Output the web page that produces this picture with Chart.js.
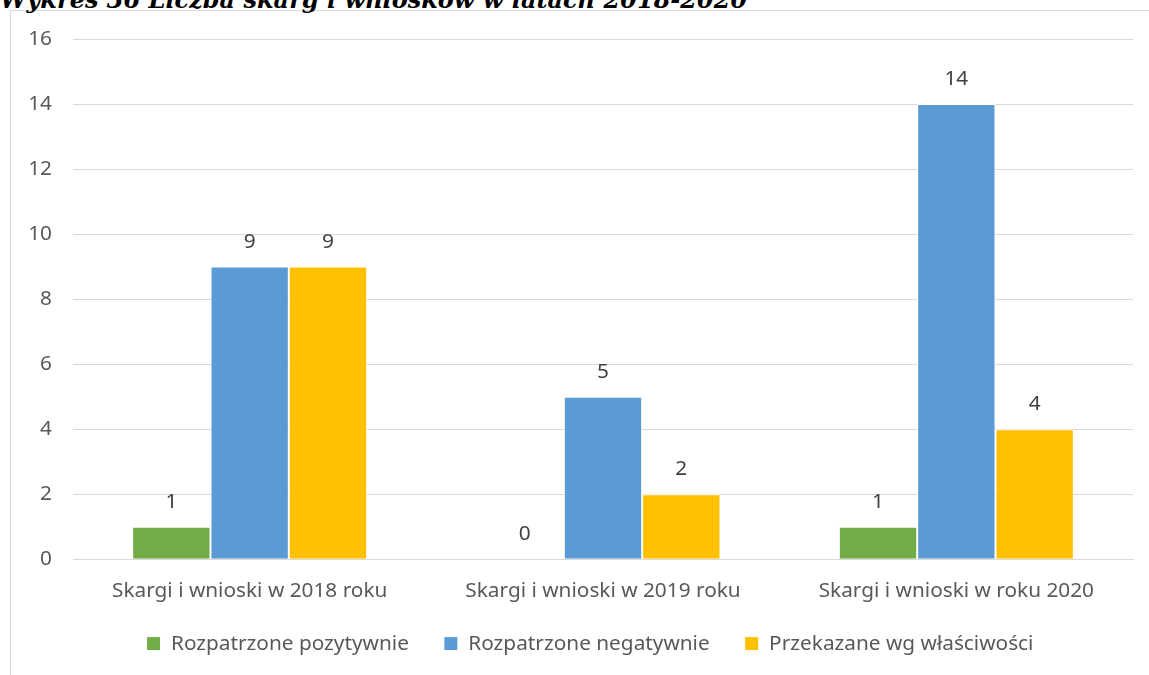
<!DOCTYPE html>
<html>
<head>
<meta charset="utf-8">
<script src="https://cdn.jsdelivr.net/npm/chart.js@4.4.1/dist/chart.umd.min.js"></script>
<style>
  html, body { margin: 0; padding: 0; background: #fff; overflow: hidden; }
  #frame {
    position: absolute; left: 10px; top: 10px; width: 1200px; height: 700px;
    border-left: 1px solid #d9d9d9; border-top: 1px solid #d9d9d9;
  }
  #title {
    position: absolute; left: 0; top: -15px; margin: 0;
    font-family: 'DejaVu Serif', serif; font-weight: bold; font-style: italic;
    font-size: 24px; color: #000; white-space: nowrap;
  }
  #chart { position: absolute; left: 0; top: 0; }
</style>
</head>
<body>
<div id="frame"></div>
<div id="title">Wykres 36 Liczba skarg i wniosków w latach 2018-2020</div>
<canvas id="chart" width="1149" height="675"></canvas>
<script>
/* === data === */
const categories = ['Skargi i wnioski w 2018 roku', 'Skargi i wnioski w 2019 roku', 'Skargi i wnioski w roku 2020'];
const seriesNames = ['Rozpatrzone pozytywnie', 'Rozpatrzone negatywnie', 'Przekazane wg właściwości'];
const positive = [1, 0, 1];
const negative = [9, 5, 14];
const forwarded = [9, 2, 4];
const yTicks = [0, 2, 4, 6, 8, 10, 12, 14, 16];

const colors = ['#70ad47', '#5b9bd5', '#ffc000'];
const FONT = "'Noto Sans', sans-serif";
const FSIZE = 20.8;

// value labels above each bar
const valueLabels = {
    id: 'valueLabels',
    afterDatasetsDraw(chart) {
        const ctx = chart.ctx;
        ctx.save();
        ctx.font = FSIZE + 'px ' + FONT;
        ctx.fillStyle = '#404040';
        ctx.textAlign = 'center';
        ctx.textBaseline = 'middle';
        chart.data.datasets.forEach((ds, i) => {
            chart.getDatasetMeta(i).data.forEach((bar, j) => {
                ctx.fillText(String(ds.data[j]), bar.x, bar.y - 25);
            });
        });
        ctx.restore();
    }
};

// the legend in the original sits a bit right of centre and closer to the axis labels
const legendShift = {
    id: 'legendShift',
    afterLayout(chart) {
        const lg = chart.legend;
        if (!lg) return;
        const dx = 590 - (lg.left + lg.right) / 2;
        const dy = -10;
        lg.left += dx;
        lg.right += dx;
        lg.top += dy;
        lg.bottom += dy;
    }
};

const allSeries = [positive, negative, forwarded];

new Chart(document.getElementById('chart'), {
    type: 'bar',
    data: {
        labels: categories,
        datasets: allSeries.map((vals, i) => ({
            label: seriesNames[i],
            data: vals,
            backgroundColor: colors[i],
            borderColor: '#ffffff',
            borderWidth: 1,
            barPercentage: 1,
            categoryPercentage: 0.665,
        }))
    },
    options: {
        responsive: false,
        animation: false,
        layout: { padding: { left: 0, right: 16, top: 39, bottom: 1 } },
        plugins: {
            legend: {
                position: 'bottom',
                labels: {
                    boxWidth: 14,
                    boxHeight: 14,
                    padding: 35,
                    color: '#595959',
                    font: { family: FONT, size: FSIZE }
                }
            },
            tooltip: { enabled: false }
        },
        scales: {
            x: {
                grid: { display: false, drawTicks: false },
                border: { color: '#d9d9d9' },
                ticks: { color: '#595959', padding: 19, font: { family: FONT, size: FSIZE } },
                afterFit(scale) { scale.height = 49; }
            },
            y: {
                min: 0,
                max: 16,
                afterBuildTicks(scale) { scale.ticks = yTicks.map(v => ({ value: v })); },
                grid: { color: '#d9d9d9', drawTicks: false },
                border: { display: false },
                ticks: { color: '#595959', padding: 21, font: { family: FONT, size: FSIZE } },
                afterFit(scale) { scale.width = 73; }
            }
        }
    },
    plugins: [valueLabels, legendShift]
});
</script>
</body>
</html>
